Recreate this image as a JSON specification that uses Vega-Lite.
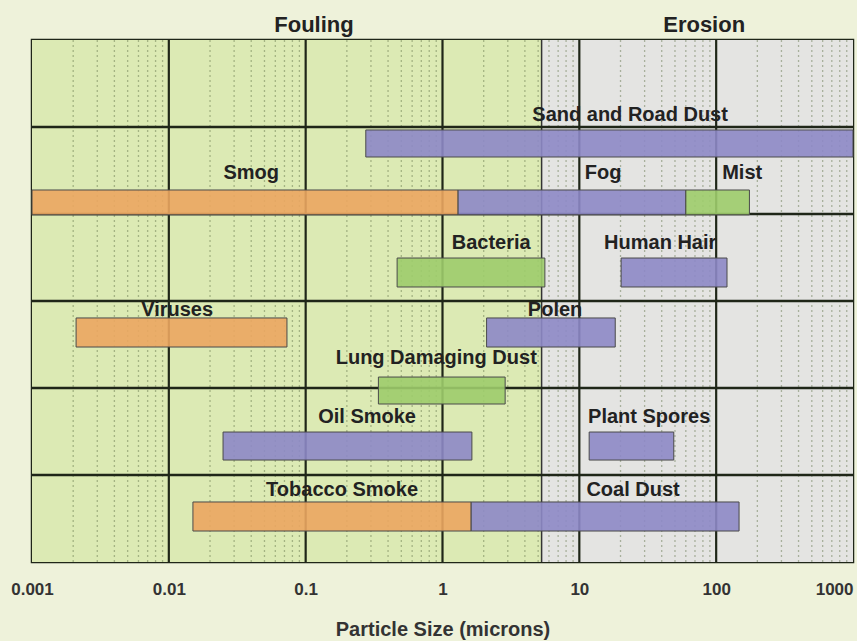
{
  "$schema": "https://vega.github.io/schema/vega-lite/v6.json",
  "width": 821,
  "height": 522,
  "autosize": {"type": "none"},
  "padding": {"left": 32, "top": 40, "right": 4, "bottom": 79},
  "background": "#EEF2DA",
  "config": {
    "view": {"stroke": "#1f2618", "strokeWidth": 2.5},
    "font": "Liberation Sans",
    "axisX": {"grid": false, "ticks": false, "domain": false}
  },
  "datasets": {
    "zones": [
      {"zone": "Fouling", "start": 0.001, "end": 5.3},
      {"zone": "Erosion", "start": 5.3, "end": 1000}
    ],
    "minor": [
      {"v": 0.002}, {"v": 0.003}, {"v": 0.004}, {"v": 0.005}, {"v": 0.006}, {"v": 0.007}, {"v": 0.008}, {"v": 0.009},
      {"v": 0.02}, {"v": 0.03}, {"v": 0.04}, {"v": 0.05}, {"v": 0.06}, {"v": 0.07}, {"v": 0.08}, {"v": 0.09},
      {"v": 0.2}, {"v": 0.3}, {"v": 0.4}, {"v": 0.5}, {"v": 0.6}, {"v": 0.7}, {"v": 0.8}, {"v": 0.9},
      {"v": 2}, {"v": 3}, {"v": 4}, {"v": 5}, {"v": 6}, {"v": 7}, {"v": 8}, {"v": 9},
      {"v": 20}, {"v": 30}, {"v": 40}, {"v": 50}, {"v": 60}, {"v": 70}, {"v": 80}, {"v": 90},
      {"v": 200}, {"v": 300}, {"v": 400}, {"v": 500}, {"v": 600}, {"v": 700}, {"v": 800}, {"v": 900}
    ],
    "major": [{"v": 0.01}, {"v": 0.1}, {"v": 1}, {"v": 10}, {"v": 100}],
    "rows": [{"r": 1}, {"r": 2}, {"r": 3}, {"r": 4}, {"r": 5}],
    "bars": [
      {"name": "Sand and Road Dust", "lo": 0.275, "hi": 1000, "top": 1.034, "bot": 1.345, "kind": "purple"},
      {"name": "Smog", "lo": 0.001, "hi": 1.3, "top": 1.724, "bot": 2.01, "kind": "orange"},
      {"name": "Fog", "lo": 1.3, "hi": 60, "top": 1.724, "bot": 2.01, "kind": "purple"},
      {"name": "Mist", "lo": 60, "hi": 175, "top": 1.724, "bot": 2.01, "kind": "green"},
      {"name": "Bacteria", "lo": 0.466, "hi": 5.6, "top": 2.506, "bot": 2.839, "kind": "green"},
      {"name": "Human Hair", "lo": 20.2, "hi": 120, "top": 2.506, "bot": 2.839, "kind": "purple"},
      {"name": "Viruses", "lo": 0.0021, "hi": 0.073, "top": 3.195, "bot": 3.529, "kind": "orange"},
      {"name": "Polen", "lo": 2.1, "hi": 18.3, "top": 3.195, "bot": 3.529, "kind": "purple"},
      {"name": "Lung Damaging Dust", "lo": 0.34, "hi": 2.87, "top": 3.874, "bot": 4.184, "kind": "green"},
      {"name": "Oil Smoke", "lo": 0.0249, "hi": 1.64, "top": 4.506, "bot": 4.828, "kind": "purple"},
      {"name": "Plant Spores", "lo": 11.8, "hi": 49, "top": 4.506, "bot": 4.828, "kind": "purple"},
      {"name": "Tobacco Smoke", "lo": 0.015, "hi": 1.62, "top": 5.31, "bot": 5.644, "kind": "orange"},
      {"name": "Coal Dust", "lo": 1.62, "hi": 147, "top": 5.31, "bot": 5.644, "kind": "purple"}
    ],
    "labels": [
      {"name": "Sand and Road Dust", "x": 23.5, "y": 0.862},
      {"name": "Smog", "x": 0.040, "y": 1.529},
      {"name": "Fog", "x": 14.9, "y": 1.529},
      {"name": "Mist", "x": 155, "y": 1.529},
      {"name": "Bacteria", "x": 2.27, "y": 2.333},
      {"name": "Human Hair", "x": 39, "y": 2.333},
      {"name": "Viruses", "x": 0.0115, "y": 3.103},
      {"name": "Polen", "x": 6.65, "y": 3.103},
      {"name": "Lung Damaging Dust", "x": 0.9, "y": 3.655},
      {"name": "Oil Smoke", "x": 0.281, "y": 4.333},
      {"name": "Plant Spores", "x": 32.4, "y": 4.333},
      {"name": "Tobacco Smoke", "x": 0.1845, "y": 5.172},
      {"name": "Coal Dust", "x": 24.7, "y": 5.172}
    ],
    "titles": [
      {"name": "Fouling", "x": 0.115, "y": -0.17},
      {"name": "Erosion", "x": 81.7, "y": -0.17}
    ]
  },
  "resolve": {"scale": {"color": "independent"}},
  "layer": [
    {
      "data": {"name": "zones"},
      "mark": {"type": "rect"},
      "encoding": {
        "x": {
          "field": "start", "type": "quantitative",
          "scale": {"type": "log", "domain": [0.001, 1000], "nice": false},
          "axis": {
            "values": [0.001, 0.01, 0.1, 1, 10, 100, 1000],
            "format": "~g",
            "grid": false, "ticks": false, "domain": false,
            "labelFont": "Liberation Sans", "labelFontWeight": "bold", "labelFontSize": 17,
            "labelColor": "#333333", "labelPadding": 19,
            "labelAlign": {"condition": {"test": "datum.value >= 1000", "value": "right"}, "value": "center"},
            "labelFlush": false,
            "title": "Particle Size (microns)",
            "titleFont": "Liberation Sans", "titleFontWeight": "bold", "titleFontSize": 20,
            "titleColor": "#333333", "titlePadding": 22
          }
        },
        "x2": {"field": "end"},
        "color": {
          "field": "zone", "type": "nominal",
          "scale": {"domain": ["Fouling", "Erosion"], "range": ["#DCEAB4", "#E4E4E2"]},
          "legend": null
        }
      }
    },
    {
      "data": {"name": "minor"},
      "mark": {"type": "rule", "stroke": "#5f7048", "strokeOpacity": 0.45, "strokeWidth": 1.3, "strokeDash": [2, 3]},
      "encoding": {"x": {"field": "v", "type": "quantitative"}}
    },
    {
      "data": {"values": [{"v": 5.3}]},
      "mark": {"type": "rule", "stroke": "#333333", "strokeWidth": 1.5},
      "encoding": {"x": {"field": "v", "type": "quantitative"}}
    },
    {
      "data": {"name": "major"},
      "mark": {"type": "rule", "stroke": "#1f2618", "strokeWidth": 2.2},
      "encoding": {"x": {"field": "v", "type": "quantitative"}}
    },
    {
      "data": {"name": "rows"},
      "mark": {"type": "rule", "stroke": "#1f2618", "strokeWidth": 2.4},
      "encoding": {
        "y": {"field": "r", "type": "quantitative", "scale": {"domain": [0, 6], "reverse": true, "nice": false, "zero": false}, "axis": null}
      }
    },
    {
      "data": {"name": "bars"},
      "mark": {"type": "rect", "stroke": "#4a4a4a", "strokeWidth": 1, "fillOpacity": 0.9},
      "encoding": {
        "x": {"field": "lo", "type": "quantitative"},
        "x2": {"field": "hi"},
        "y": {"field": "top", "type": "quantitative", "axis": null},
        "y2": {"field": "bot"},
        "color": {
          "field": "kind", "type": "nominal",
          "scale": {"domain": ["orange", "purple", "green"], "range": ["#EBA660", "#8D88C6", "#9DCC6C"]},
          "legend": null
        }
      }
    },
    {
      "data": {"name": "labels"},
      "mark": {"type": "text", "font": "Liberation Sans", "fontWeight": "bold", "fontSize": 20, "color": "#222222", "baseline": "middle", "align": "center"},
      "encoding": {
        "x": {"field": "x", "type": "quantitative"},
        "y": {"field": "y", "type": "quantitative", "axis": null},
        "text": {"field": "name"}
      }
    },
    {
      "data": {"name": "titles"},
      "mark": {"type": "text", "font": "Liberation Sans", "fontWeight": "bold", "fontSize": 22, "color": "#222222", "baseline": "middle", "align": "center"},
      "encoding": {
        "x": {"field": "x", "type": "quantitative"},
        "y": {"field": "y", "type": "quantitative", "axis": null},
        "text": {"field": "name"}
      }
    }
  ]
}
